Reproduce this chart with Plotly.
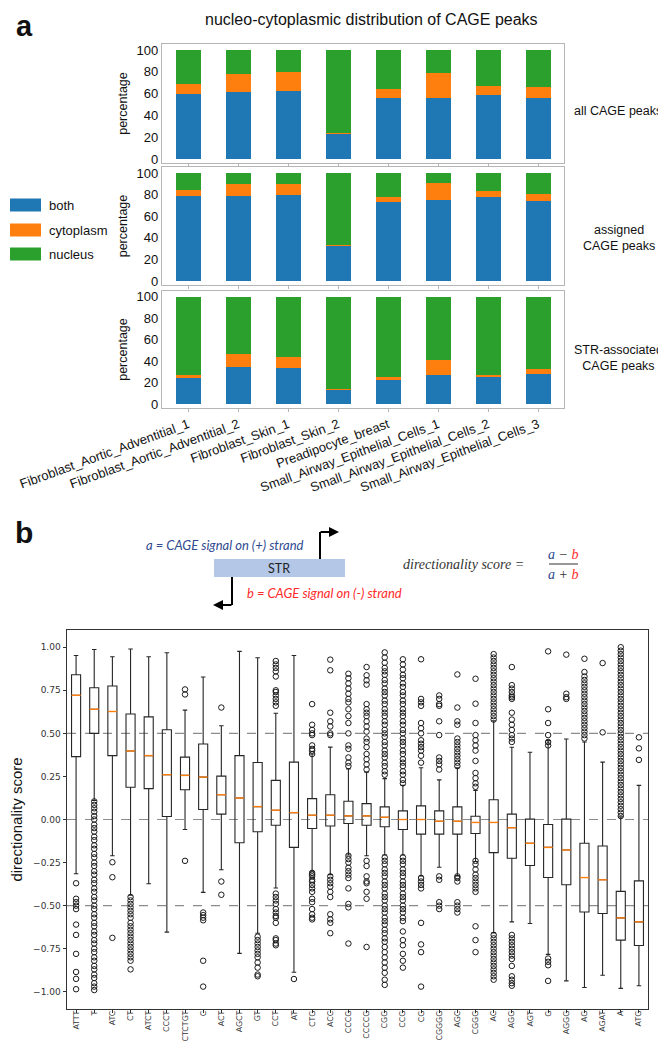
import plotly.graph_objects as go

W, H = 666, 1042
def px(x): return x / W
def py(y): return 1 - y / H

# ---------------- panel a data ----------------
samples = ["Fibroblast_Aortic_Adventitial_1", "Fibroblast_Aortic_Adventitial_2",
           "Fibroblast_Skin_1", "Fibroblast_Skin_2", "Preadipocyte_breast",
           "Small_Airway_Epithelial_Cells_1", "Small_Airway_Epithelial_Cells_2",
           "Small_Airway_Epithelial_Cells_3"]
fractions = ["both", "cytoplasm", "nucleus"]
frac_colors = ["#1f77b4", "#ff7f0e", "#2ca02c"]
panel_names = ["all CAGE peaks", "assigned<br>CAGE peaks", "STR-associated<br>CAGE peaks"]

all_both = [59.2, 61.7, 62.3, 23.0, 55.8, 56.4, 58.3, 56.1]
all_cyto = [9.8, 16.5, 17.1, 1.2, 8.3, 22.4, 8.9, 9.9]
all_nuc = [31.0, 21.8, 20.6, 75.8, 35.9, 21.2, 32.8, 34.0]

asg_both = [78.7, 78.7, 79.3, 33.3, 73.4, 74.6, 78.1, 73.7]
asg_cyto = [5.9, 11.2, 10.6, 0.3, 4.4, 16.5, 5.6, 6.5]
asg_nuc = [15.4, 10.1, 10.1, 66.4, 22.2, 8.9, 16.3, 19.8]

str_both = [24.2, 34.5, 33.2, 13.4, 23.0, 26.7, 25.5, 28.0]
str_cyto = [2.5, 12.1, 10.6, 0.6, 1.8, 14.0, 1.8, 4.9]
str_nuc = [73.3, 53.4, 56.2, 86.0, 75.2, 59.3, 72.7, 67.1]

pct_ticks = [0, 20, 40, 60, 80, 100]

# ---------------- panel b data ----------------
motifs = ["ATTT", "T", "ATC", "CT", "ATCT", "CCCT", "CTCTGT", "C", "ACT", "AGCT", "GT",
          "CCT", "AT", "CTG", "ACC", "CCCG", "CCCCG", "CGG", "CCG", "CG", "CGGGG", "AGC",
          "CGGG", "AC", "AGG", "AGT", "G", "AGGG", "AG", "AGAT", "A", "ATG"]
q3_vals = [0.84, 0.765, 0.775, 0.612, 0.596, 0.521, 0.362, 0.438, 0.252, 0.371, 0.331,
           0.227, 0.333, 0.121, 0.144, 0.106, 0.092, 0.073, 0.05, 0.079, 0.05, 0.073,
           0.019, 0.115, 0.031, 0.002, -0.029, 0.002, -0.138, -0.154, -0.417, -0.356]
median_vals = [0.721, 0.64, 0.627, 0.398, 0.371, 0.26, 0.256, 0.246, 0.144, 0.125, 0.075,
               0.054, 0.04, 0.025, 0.025, 0.021, 0.021, 0.013, 0.0, 0.0, -0.01, -0.01,
               -0.017, -0.017, -0.048, -0.138, -0.162, -0.177, -0.337, -0.35, -0.571, -0.594]
q1_vals = [0.365, 0.50, 0.371, 0.187, 0.179, 0.017, 0.173, 0.058, 0.031, -0.135, -0.071,
           -0.033, -0.162, -0.052, -0.038, -0.023, -0.033, -0.042, -0.058, -0.085, -0.085, -0.085,
           -0.081, -0.192, -0.225, -0.267, -0.337, -0.379, -0.537, -0.546, -0.70, -0.731]
upper_whisker = [0.952, 0.987, 0.945, 0.99, 0.945, 0.968, 0.635, 0.827, 0.544, 0.976, 0.939,
                 0.617, 0.952, 0.38, 0.42, 0.294, 0.275, 0.237, 0.198, 0.30, 0.23, 0.30,
                 0.169, 0.573, 0.419, 0.39, 0.458, 0.467, 0.45, 0.333, 0.015, 0.198]
lower_whisker = [-0.315, 0.11, -0.21, -0.44, -0.373, -0.654, -0.058, -0.423, -0.292, -0.777, -0.66,
                 -0.398, -0.887, -0.30, -0.32, -0.206, -0.21, -0.206, -0.206, -0.327, -0.277, -0.327,
                 -0.244, -0.658, -0.594, -0.604, -0.783, -0.937, -0.975, -0.904, -0.98, -0.965]

out_ATTT = [-0.37, -0.46, -0.48, -0.50, -0.52, -0.61, -0.67, -0.78, -0.885, -0.925, -0.985]
out_T = [0.105, 0.085, 0.065, 0.045, 0.02, 0.0, -0.03, -0.05, -0.07, -0.10, -0.12, -0.15, -0.17,
         -0.20, -0.22, -0.25, -0.27, -0.30, -0.32, -0.35, -0.37, -0.40, -0.42, -0.45, -0.47,
         -0.50, -0.52, -0.55, -0.57, -0.60, -0.62, -0.65, -0.67, -0.70, -0.72, -0.75, -0.77,
         -0.80, -0.82, -0.85, -0.87, -0.90, -0.92, -0.95, -0.97, -0.99]
out_ATC = [-0.248, -0.335, -0.687]
out_CT = [-0.45, -0.47, -0.49, -0.51, -0.53, -0.55, -0.57, -0.60, -0.62, -0.64, -0.66, -0.68,
          -0.70, -0.72, -0.74, -0.76, -0.78, -0.80, -0.82, -0.87]
out_ATCT = []
out_CCCT = []
out_CTCTGT = [0.755, 0.726, -0.24]
out_C = [-0.54, -0.555, -0.57, -0.585, -0.82, -0.97]
out_ACT = [0.65, -0.36, -0.437]
out_AGCT = []
out_GT = [-0.68, -0.70, -0.72, -0.74, -0.76, -0.78, -0.80, -0.83, -0.86, -0.90, -0.91]
out_CCT = [0.92, 0.90, 0.88, 0.86, 0.83, 0.75, 0.74, 0.72, 0.70, 0.68, 0.66,
           -0.43, -0.45, -0.47, -0.49, -0.52, -0.54, -0.56, -0.57, -0.60, -0.69, -0.70, -0.72, -0.73]
out_AT = [-0.926]
out_CTG = [0.67, 0.55, 0.52, 0.50, 0.49, 0.43, 0.41, 0.40, 0.38, -0.31, -0.32, -0.33, -0.35,
           -0.36, -0.38, -0.40, -0.42, -0.46, -0.48, -0.52, -0.55, -0.57, -0.58]
out_ACC = [0.928, 0.866, 0.62, 0.57, 0.54, 0.50, 0.49, -0.33, -0.35, -0.37, -0.39, -0.42, -0.45,
           -0.55, -0.58, -0.60, -0.66]
out_CCCG = [0.846, 0.82, 0.79, 0.76, 0.73, 0.70, 0.68, 0.64, 0.60, 0.56, 0.50, 0.43, 0.41, 0.36,
            0.33, 0.31, -0.21, -0.23, -0.25, -0.28, -0.30, -0.32, -0.34, -0.40, -0.49, -0.51, -0.72]
out_CCCCG = [0.885, 0.837, 0.808, 0.783, 0.67, 0.64, 0.62, 0.60, 0.57, 0.54, 0.51, 0.47, 0.45,
             0.42, 0.38, 0.35, 0.32, 0.29, -0.24, -0.27, -0.33, -0.36, -0.37, -0.42, -0.46, -0.74]
out_CGG = [0.97, 0.94, 0.91, 0.88, 0.86, 0.84, 0.81, 0.79, 0.76, 0.74, 0.72, 0.69, 0.67, 0.64,
           0.62, 0.60, 0.57, 0.55, 0.52, 0.50, 0.48, 0.45, 0.43, 0.40, 0.38, 0.36, 0.33, 0.31,
           0.28, 0.26, -0.22, -0.24, -0.26, -0.29, -0.31, -0.33, -0.36, -0.38, -0.40, -0.43,
           -0.45, -0.47, -0.50, -0.52, -0.54, -0.57, -0.59, -0.61, -0.64, -0.66, -0.69, -0.71,
           -0.74, -0.77, -0.80, -0.83, -0.86, -0.89, -0.93, -0.96]
out_CCG = [0.93, 0.90, 0.87, 0.84, 0.82, 0.79, 0.77, 0.74, 0.72, 0.69, 0.67, 0.64, 0.62, 0.60,
           0.57, 0.55, 0.52, 0.50, 0.47, 0.45, 0.43, 0.40, 0.38, 0.35, 0.33, 0.31, 0.28, 0.26,
           0.23, 0.21, -0.22, -0.24, -0.26, -0.29, -0.31, -0.33, -0.36, -0.38, -0.40, -0.43,
           -0.45, -0.47, -0.50, -0.52, -0.54, -0.57, -0.59, -0.65, -0.70, -0.73, -0.78, -0.82, -0.86]
out_CG = [0.93, 0.70, 0.68, 0.66, 0.56, 0.53, 0.50, 0.46, 0.44, 0.42, 0.40, 0.37, 0.33,
          -0.34, -0.36, -0.38, -0.40, -0.60, -0.725, -0.77, -0.97]
out_CGGGG = [0.72, 0.70, 0.67, 0.66, 0.57, 0.49, 0.36, 0.34, 0.32, 0.29, -0.33, -0.35, -0.48,
             -0.50, -0.52]
out_AGC = [0.842, 0.65, 0.57, 0.55, 0.47, 0.45, 0.43, 0.41, 0.39, 0.37, 0.35, 0.33, 0.31,
           -0.33, -0.34, -0.36, -0.48, -0.50, -0.52, -0.54]
out_CGGG = [0.817, 0.672, 0.56, 0.49, 0.46, 0.43, 0.40, 0.34, 0.27, 0.24, 0.21, 0.19,
            -0.24, -0.26, -0.29, -0.32, -0.34, -0.36, -0.38, -0.40, -0.42, -0.62, -0.70, -0.77]
out_AC = [0.96, 0.94, 0.92, 0.90, 0.88, 0.86, 0.84, 0.82, 0.80, 0.78, 0.76, 0.74, 0.72, 0.70,
          0.68, 0.66, 0.64, 0.62, 0.60, 0.58, -0.67, -0.69, -0.71, -0.73, -0.75, -0.77, -0.79,
          -0.81, -0.83, -0.85, -0.87, -0.89, -0.91, -0.93]
out_AGG = [0.885, 0.78, 0.76, 0.74, 0.72, 0.71, 0.70, 0.62, 0.58, 0.55, 0.52, 0.49, 0.47, 0.45,
           -0.67, -0.69, -0.71, -0.73, -0.75, -0.77, -0.79, -0.81, -0.85, -0.91, -0.93, -0.95, -0.965]
out_AGT = []
out_G = [0.976, 0.64, 0.56, 0.49, 0.45, 0.43, -0.807, -0.826, -0.846, -0.937]
out_AGGG = [0.957, 0.73, 0.71, 0.70]
out_AG = [0.933, 0.856, 0.83, 0.81, 0.79, 0.77, 0.75, 0.73, 0.71, 0.69, 0.67, 0.65, 0.63, 0.61,
          0.59, 0.57, 0.55, 0.53, 0.51, 0.49, 0.47]
out_AGAT = [0.908, 0.506]
out_A = [1.0, 0.98, 0.96, 0.94, 0.92, 0.90, 0.88, 0.86, 0.84, 0.82, 0.80, 0.78, 0.76, 0.74, 0.72,
         0.70, 0.68, 0.66, 0.64, 0.62, 0.60, 0.58, 0.56, 0.54, 0.52, 0.50, 0.48, 0.46, 0.44,
         0.42, 0.40, 0.38, 0.36, 0.34, 0.32, 0.30, 0.28, 0.26, 0.24, 0.22, 0.20, 0.18, 0.16,
         0.14, 0.12, 0.10, 0.08, 0.06, 0.04, 0.02]
out_ATG = [0.477, 0.413, 0.346]

outliers = [out_ATTT, out_T, out_ATC, out_CT, out_ATCT, out_CCCT, out_CTCTGT, out_C, out_ACT,
            out_AGCT, out_GT, out_CCT, out_AT, out_CTG, out_ACC, out_CCCG, out_CCCCG, out_CGG,
            out_CCG, out_CG, out_CGGGG, out_AGC, out_CGGG, out_AC, out_AGG, out_AGT, out_G,
            out_AGGG, out_AG, out_AGAT, out_A, out_ATG]
ref_lines = [0.5, 0.0, -0.5]
score_ticks = [-1.0, -0.75, -0.5, -0.25, 0.0, 0.25, 0.5, 0.75, 1.0]

# ---------------- figure ----------------
fig = go.Figure()
SANS = "Liberation Sans, Arial, sans-serif"
DJ = "DejaVu Sans, sans-serif"

panel_data = [(all_both, all_cyto, all_nuc), (asg_both, asg_cyto, asg_nuc), (str_both, str_cyto, str_nuc)]
frames = [(36, 155), (159, 277), (283, 400)]
for p, comps in enumerate(panel_data):
    xa = "x" if p == 0 else f"x{p+1}"
    ya = "y" if p == 0 else f"y{p+1}"
    for f, vals in enumerate(comps):
        fig.add_trace(go.Bar(x=samples, y=vals, name=fractions[f], marker_color=frac_colors[f],
                             marker_line_width=0, width=0.5, xaxis=xa, yaxis=ya,
                             showlegend=False))

positions = list(range(1, len(motifs) + 1))
fig.add_trace(go.Box(x=positions, q1=q1_vals, median=median_vals, q3=q3_vals,
                     lowerfence=lower_whisker, upperfence=upper_whisker,
                     width=0.5, whiskerwidth=0.5, boxpoints=False,
                     line=dict(color="#262626", width=1.1), fillcolor="rgba(0,0,0,0)",
                     xaxis="x4", yaxis="y4", showlegend=False))
mx, my = [], []
for p, m in zip(positions, median_vals):
    mx += [p - 0.25, p + 0.25, None]
    my += [m, m, None]
fig.add_trace(go.Scatter(x=mx, y=my, mode="lines", line=dict(color="#ff7f0e", width=1.4),
                         xaxis="x4", yaxis="y4", showlegend=False, hoverinfo="skip"))
ox, oy = [], []
for p, vals in zip(positions, outliers):
    ox += [p] * len(vals)
    oy += vals
fig.add_trace(go.Scatter(x=ox, y=oy, mode="markers",
                         marker=dict(symbol="circle-open", size=5.5, color="#1a1a1a",
                                     line=dict(width=1)),
                         xaxis="x4", yaxis="y4", showlegend=False))

layout = dict(width=W, height=H, margin=dict(l=0, r=0, t=0, b=0, autoexpand=False),
              paper_bgcolor="white", plot_bgcolor="white", barmode="stack",
              showlegend=False, font=dict(family=SANS, color="#111"))
xdom = [px(154), px(556)]
for p, (top, bot) in enumerate(frames):
    xk = "xaxis" if p == 0 else f"xaxis{p+1}"
    yk = "yaxis" if p == 0 else f"yaxis{p+1}"
    xa = "x" if p == 0 else f"x{p+1}"
    ya = "y" if p == 0 else f"y{p+1}"
    layout[xk] = dict(domain=xdom, anchor=ya, type="category", categoryorder="array",
                      categoryarray=samples, range=[-0.52, 7.52], automargin=False,
                      showline=True, mirror=True, linecolor="#b5b5b5", linewidth=1.2,
                      ticks="outside", ticklen=3, tickcolor="#b5b5b5",
                      showticklabels=(p == 2), tickangle=-20,
                      tickfont=dict(family=SANS, size=13, color="#111"),
                      showgrid=False, zeroline=False)
    layout[yk] = dict(domain=[py(bot), py(top)], anchor=xa, range=[-3.7, 105.5],
                      tickvals=pct_ticks, ticks="", showline=True, mirror=True,
                      linecolor="#b5b5b5", linewidth=1.2, showgrid=False, zeroline=False,
                      automargin=False,
                      tickfont=dict(family=SANS, size=13, color="#111"),
                      title=dict(text="percentage", font=dict(family=SANS, size=12.5, color="#111"),
                                 standoff=6))
layout["xaxis4"] = dict(domain=[px(59), px(640)], anchor="y4", range=[0.5, len(motifs) + 0.5],
                        tickvals=positions, ticktext=motifs, tickangle=-90, automargin=False,
                        tickfont=dict(family=DJ, size=7.9, color="#333"),
                        ticklabelstandoff=-5,
                        ticks="outside", ticklen=2.5, tickcolor="#333",
                        showline=True, mirror=True, linecolor="#333", linewidth=1,
                        showgrid=False, zeroline=False)
layout["yaxis4"] = dict(domain=[py(1001), py(622)], anchor="x4", range=[-1.1, 1.1],
                        tickvals=score_ticks, tickformat=".2f", automargin=False,
                        tickfont=dict(family=DJ, size=9, color="#333"),
                        ticks="outside", ticklen=3.5, tickcolor="#333",
                        showline=True, mirror=True, linecolor="#333", linewidth=1,
                        showgrid=False, zeroline=False,
                        title=dict(text="directionality score",
                                   font=dict(family=SANS, size=15, color="#111"), standoff=8))
fig.update_layout(**layout)

shapes = []
for v in ref_lines:
    shapes.append(dict(type="line", xref="x4 domain", yref="y4", x0=0, x1=1, y0=v, y1=v,
                       line=dict(color="#8c8c8c", width=1.2, dash="dash"), layer="below"))
# legend patches
leg_y = [197, 222, 246]
for c, yy in zip(frac_colors, leg_y):
    shapes.append(dict(type="rect", xref="paper", yref="paper", x0=px(2), x1=px(33),
                       y0=py(yy + 6.5), y1=py(yy - 6.5), fillcolor=c, line=dict(width=0)))
# STR diagram
shapes.append(dict(type="rect", xref="paper", yref="paper", x0=px(206), x1=px(337),
                   y0=py(569), y1=py(551), fillcolor="#b4c7e7", line=dict(width=0)))
shapes.append(dict(type="line", xref="paper", yref="paper", x0=px(312), x1=px(312),
                   y0=py(551), y1=py(524), line=dict(color="black", width=2)))
shapes.append(dict(type="line", xref="paper", yref="paper", x0=px(224), x1=px(224),
                   y0=py(569), y1=py(597), line=dict(color="black", width=2)))
shapes.append(dict(type="line", xref="paper", yref="paper", x0=px(541), x1=px(570),
                   y0=py(556), y1=py(556), line=dict(color="#333", width=1)))
fig.update_layout(shapes=shapes)

ann = []
def text(x, y, s, size, color="#111", family=SANS, xanchor="center", yanchor="middle", **kw):
    ann.append(dict(x=px(x), y=py(y), xref="paper", yref="paper", text=s, showarrow=False,
                    font=dict(size=size, color=color, family=family), xanchor=xanchor,
                    yanchor=yanchor, **kw))

text(16, 0.5, "<b>a</b>", 29, yanchor="top")
text(16, 524, "<b>b</b>", 30)
text(363, 12, "nucleo-cytoplasmic distribution of CAGE peaks", 16)
for name, yy in zip(fractions, leg_y):
    text(39, yy, name, 13, xanchor="left")
text(610, 103, panel_names[0], 12.5)
text(611, 230, panel_names[1], 12.5)
text(610, 350, panel_names[2], 12.5)
LATO = "Lato, sans-serif"
text(217, 537, "<i>a = CAGE signal on (+) strand</i>", 13, color="#2f4b8f", family=LATO)
text(316, 585, "<i>b = CAGE signal on (-) strand</i>", 13, color="#ff2a2a", family=LATO)
text(271, 560, "STR", 12.5, color="#222", family=LATO)
SERIF = "Liberation Serif, serif"
text(518, 556, "<i>directionality score =</i>", 14, color="#333", family=SERIF, xanchor="right")
text(555, 546, "<i><span style='color:#2f4b8f'>a</span> − <span style='color:#ff2a2a'>b</span></i>",
     14, color="#333", family=SERIF)
text(555, 566, "<i><span style='color:#2f4b8f'>a</span> + <span style='color:#ff2a2a'>b</span></i>",
     14, color="#333", family=SERIF)
# arrows
ann.append(dict(x=px(331), y=py(524), xref="paper", yref="paper", ax=-20, ay=0,
                axref="pixel", ayref="pixel", showarrow=True, arrowhead=2, arrowsize=1,
                arrowwidth=2, arrowcolor="black", text=""))
ann.append(dict(x=px(205), y=py(597), xref="paper", yref="paper", ax=20, ay=0,
                axref="pixel", ayref="pixel", showarrow=True, arrowhead=2, arrowsize=1,
                arrowwidth=2, arrowcolor="black", text=""))
fig.update_layout(annotations=ann)

fig.write_html("out.html")
